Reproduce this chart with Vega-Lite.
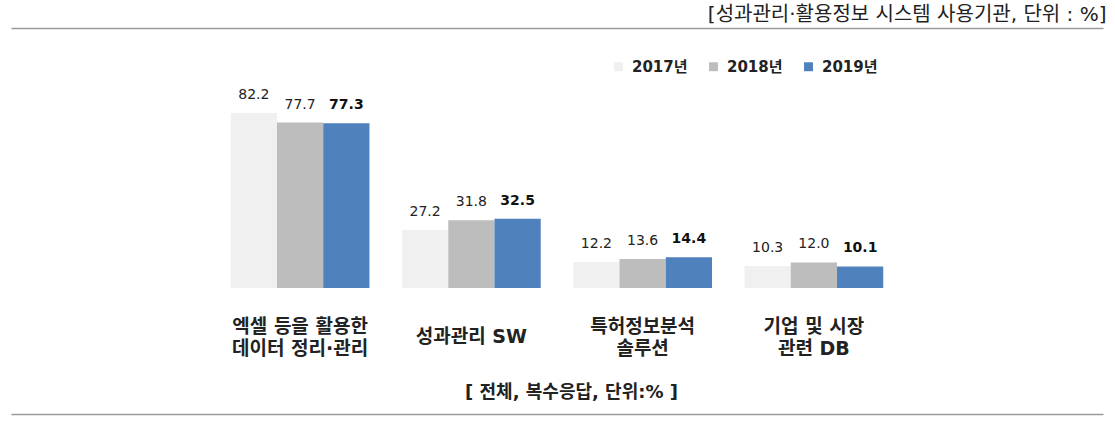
{
  "$schema": "https://vega.github.io/schema/vega-lite/v6.json",
  "width": 1092,
  "height": 386,
  "autosize": {"type": "none"},
  "padding": {"left": 11, "top": 28, "right": 12, "bottom": 19},
  "config": {"view": {"stroke": null}, "font": "DejaVu Sans, Noto Sans CJK KR"},
  "datasets": {
    "bars": [
      {"category": "엑셀 등을 활용한\n데이터 정리·관리", "year": "2017년", "value": 82.2},
      {"category": "엑셀 등을 활용한\n데이터 정리·관리", "year": "2018년", "value": 77.7},
      {"category": "엑셀 등을 활용한\n데이터 정리·관리", "year": "2019년", "value": 77.3},
      {"category": "성과관리 SW", "year": "2017년", "value": 27.2},
      {"category": "성과관리 SW", "year": "2018년", "value": 31.8},
      {"category": "성과관리 SW", "year": "2019년", "value": 32.5},
      {"category": "특허정보분석\n솔루션", "year": "2017년", "value": 12.2},
      {"category": "특허정보분석\n솔루션", "year": "2018년", "value": 13.6},
      {"category": "특허정보분석\n솔루션", "year": "2019년", "value": 14.4},
      {"category": "기업 및 시장\n관련 DB", "year": "2017년", "value": 10.3},
      {"category": "기업 및 시장\n관련 DB", "year": "2018년", "value": 12.0},
      {"category": "기업 및 시장\n관련 DB", "year": "2019년", "value": 10.1}
    ],
    "cats": [
      {"category": "엑셀 등을 활용한\n데이터 정리·관리"},
      {"category": "성과관리 SW"},
      {"category": "특허정보분석\n솔루션"},
      {"category": "기업 및 시장\n관련 DB"}
    ]
  },
  "resolve": {"axis": {"x": "independent", "y": "independent"}},
  "layer": [
    {
      "data": {"name": "bars"},
      "mark": {"type": "bar"},
      "encoding": {
        "x": {"field": "category", "type": "nominal", "sort": null,
          "scale": {"domain": [" ", "엑셀 등을 활용한\n데이터 정리·관리", "성과관리 SW", "특허정보분석\n솔루션", "기업 및 시장\n관련 DB", "  "],
            "paddingInner": 0.19, "paddingOuter": 0.283},
          "axis": {"orient": "bottom", "labels": false, "ticks": false, "domain": false,
            "title": "[ 전체, 복수응답, 단위:% ]", "titleFontSize": 18, "titleFontWeight": "bold", "titleColor": "#222",
            "titleBaseline": "middle", "titleY": -22, "titleX": 560, "titlePadding": 0}},
        "xOffset": {"field": "year", "type": "nominal", "scale": {"paddingInner": 0, "paddingOuter": 0}},
        "y": {"field": "value", "type": "quantitative", "stack": null,
          "scale": {"domain": [-59.15, 122.07], "nice": false, "zero": false},
          "axis": {"orient": "left", "values": [-59.15, 122.07], "labels": false, "ticks": false, "domain": false,
            "grid": true, "gridColor": "#9a9a9a", "gridWidth": 1.5, "title": null}},
        "color": {"field": "year", "type": "nominal",
          "scale": {"domain": ["2017년", "2018년", "2019년"], "range": ["#f0f0f0", "#bdbdbd", "#4f81bd"]},
          "legend": {"title": null, "orient": "none", "legendX": 600, "legendY": 31, "direction": "horizontal",
            "symbolType": "square", "symbolSize": 80, "symbolStrokeWidth": 0, "labelFontSize": 15,
            "labelFontWeight": "bold", "labelColor": "#222", "columnPadding": 18, "padding": 0, "labelOffset": 6}}
      }
    },
    {
      "data": {"name": "bars"},
      "transform": [{"filter": "datum.year !== '2019년'"}],
      "mark": {"type": "text", "baseline": "bottom", "dy": -11, "fontSize": 14, "color": "#222"},
      "encoding": {
        "x": {"field": "category", "type": "nominal", "sort": null, "axis": null},
        "xOffset": {"field": "year", "type": "nominal"},
        "y": {"field": "value", "type": "quantitative", "stack": null, "axis": null},
        "text": {"field": "value", "type": "quantitative", "format": ".1f"}
      }
    },
    {
      "data": {"name": "bars"},
      "transform": [{"filter": "datum.year === '2019년'"}],
      "mark": {"type": "text", "baseline": "bottom", "dy": -11, "fontSize": 14, "fontWeight": "bold", "color": "#111"},
      "encoding": {
        "x": {"field": "category", "type": "nominal", "sort": null, "axis": null},
        "xOffset": {"field": "year", "type": "nominal"},
        "y": {"field": "value", "type": "quantitative", "stack": null, "axis": null},
        "text": {"field": "value", "type": "quantitative", "format": ".1f"}
      }
    },
    {
      "mark": {"type": "rule", "color": "#c8c8c8", "strokeWidth": 1.5},
      "encoding": {
        "x": {"datum": "엑셀 등을 활용한\n데이터 정리·관리", "type": "nominal", "bandPosition": -0.1175, "axis": null},
        "x2": {"datum": "기업 및 시장\n관련 DB", "bandPosition": 1.136},
        "y": {"datum": 0, "type": "quantitative", "axis": null}
      }
    },
    {
      "data": {"name": "cats"},
      "transform": [{"filter": "indexof(datum.category, '\\n') >= 0"}],
      "mark": {"type": "text", "lineBreak": "\n", "fontSize": 19, "fontWeight": "bold", "lineHeight": 22, "baseline": "middle", "color": "#222"},
      "encoding": {
        "x": {"field": "category", "type": "nominal", "sort": null,
          "axis": {"orient": "top", "labels": false, "ticks": false, "domain": false,
            "title": "[성과관리·활용정보 시스템 사용기관, 단위 : %]", "titleFontSize": 20, "titleFontWeight": "normal",
            "titleColor": "#222", "titleAlign": "right", "titleBaseline": "middle", "titleX": 1095, "titleY": -14, "titlePadding": 0}},
        "y": {"datum": -18.3, "type": "quantitative", "axis": null},
        "text": {"field": "category"}
      }
    },
    {
      "data": {"name": "cats"},
      "transform": [{"filter": "indexof(datum.category, '\\n') < 0"}],
      "mark": {"type": "text", "fontSize": 19, "fontWeight": "bold", "baseline": "middle", "color": "#222"},
      "encoding": {
        "x": {"field": "category", "type": "nominal", "sort": null, "axis": null},
        "y": {"datum": -23, "type": "quantitative", "axis": null},
        "text": {"field": "category"}
      }
    }
  ]
}
